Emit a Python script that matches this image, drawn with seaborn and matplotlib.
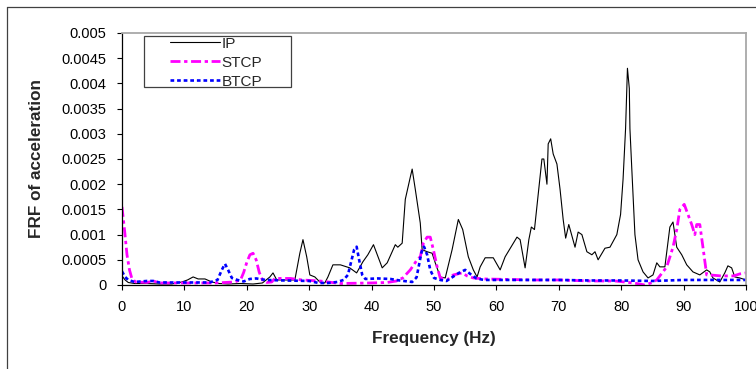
import matplotlib
matplotlib.use("Agg")
import matplotlib.pyplot as plt
import seaborn as sns
import numpy as np
import pandas as pd
from matplotlib.lines import Line2D
from matplotlib.patches import Rectangle

# ---- data ----
ip_freq = [0, 0.5, 1, 2, 4, 6, 8, 9.6, 10.5, 11.4, 12.2, 13.3, 14.4, 15.5, 17, 19, 21, 22.5,
           23.7, 24.2, 24.8, 26, 27.7, 28.5, 29, 29.6, 30.1, 30.9, 31.7, 32.5, 33, 33.8, 35,
           36.5, 37.6, 38.6, 39.4, 40.3, 41.7, 42.5, 43.8, 44.2, 44.9, 45.4, 46.2, 46.5, 47,
           47.8, 48.1, 48.9, 49.7, 50.2, 51, 51.8, 52.9, 53.9, 54.6, 55.5, 56.3, 56.9, 57.4,
           58.2, 59.5, 60.6, 61.4, 63.3, 63.8, 64.6, 65.2, 65.6, 66.1, 66.7, 67.3, 67.6, 68.1,
           68.3, 68.7, 69.1, 69.7, 70.2, 70.7, 71.1, 71.6, 72.6, 73.1, 73.7, 74.5, 75.3, 75.8,
           76.3, 77.4, 78.2, 79.3, 79.9, 80.3, 80.7, 81, 81.3, 81.4, 81.7, 82.2, 82.7, 83.5,
           84.3, 85.1, 85.7, 86.2, 87, 87.8, 88.3, 88.6, 88.9, 89.7, 90.5, 91.5, 92.6, 93.7,
           94.2, 94.7, 95.8, 96.6, 97.1, 97.7, 98.2, 99, 100]
ip_frf = [0.00018, 0.0001, 0.00005, 0.00003, 0.00003, 0.00002, 0.00002, 0.00006, 0.0001,
          0.00016, 0.00012, 0.00012, 0.00006, 0.00003, 0.00002, 0.00003, 0.00002, 0.00004,
          0.00016, 0.00024, 0.0001, 0.0001, 0.0001, 0.00063, 0.0009, 0.00056, 0.0002,
          0.00016, 0.00006, 0.00004, 0.00016, 0.0004, 0.0004, 0.00034, 0.00024, 0.00046,
          0.0006, 0.0008, 0.00034, 0.00044, 0.0008, 0.00075, 0.00083, 0.0017, 0.00214,
          0.0023, 0.0019, 0.00123, 0.0007, 0.00066, 0.00063, 0.00044, 0.00016, 0.00014,
          0.0007, 0.0013, 0.0011, 0.00056, 0.0003, 0.00016, 0.00036, 0.00054, 0.00054,
          0.0003, 0.00056, 0.00095, 0.0009, 0.00034, 0.0009, 0.00115, 0.0011, 0.0018,
          0.0025, 0.0025, 0.002, 0.0028, 0.0029, 0.0026, 0.0024, 0.0019, 0.0013, 0.00093,
          0.0012, 0.00075, 0.00105, 0.001, 0.00066, 0.0006, 0.00066, 0.0005, 0.00073,
          0.00075, 0.001, 0.0014, 0.0021, 0.0031, 0.0043, 0.0039, 0.0031, 0.0023, 0.001,
          0.0005, 0.00026, 0.00014, 0.0002, 0.00044, 0.00036, 0.00036, 0.00115, 0.00125,
          0.001, 0.00075, 0.0006, 0.0004, 0.00026, 0.0002, 0.0003, 0.00026, 0.00014,
          0.00006, 0.00024, 0.00038, 0.00034, 0.00016, 0.00014, 0.0001]

stcp_freq = [0, 0.4, 0.8, 1.2, 1.6, 2.2, 4, 5, 6, 10, 15, 18, 19, 19.5, 20, 20.5, 21, 21.5, 22,
             22.5, 23.2, 24, 24.5, 27, 28.8, 31.7, 33, 35, 39.7, 42.5, 44, 45, 46.2, 47.3,
             47.8, 48.3, 48.9, 49.4, 49.9, 50.5, 51, 52.1, 53.1, 54.5, 55.3, 56.3, 58, 62, 66,
             70, 75, 79, 82, 83.8, 85, 85.7, 87.3, 88.3, 88.9, 89.4, 90.1, 90.7, 91.3, 91.8,
             92.1, 92.6, 93.1, 93.7, 94.2, 96, 98, 99, 100]
stcp_frf = [0.00155, 0.0011, 0.0006, 0.0003, 0.00012, 0.00006, 0.00005, 0.00008, 0.00004,
            0.00004, 0.00004, 0.00006, 0.0001, 0.00025, 0.00045, 0.0006, 0.00063, 0.0005,
            0.00025, 0.0001, 0.00005, 0.00006, 0.00013, 0.00013, 0.0001, 0.00008, 0.00006,
            0.00003, 0.00004, 0.00005, 0.00008, 0.00014, 0.0003, 0.0005, 0.00056, 0.00083,
            0.00095, 0.00095, 0.0007, 0.00036, 0.00014, 0.0001, 0.0002, 0.00024, 0.00018,
            0.00014, 0.00012, 0.00011, 0.0001, 0.0001, 0.00008, 0.00008, 0.00004, 0.0,
            0.00005, 0.0001, 0.00036, 0.00075, 0.0011, 0.0015, 0.0016, 0.0014, 0.0012, 0.001,
            0.0012, 0.0012, 0.00075, 0.0002, 0.0002, 0.00018, 0.00018, 0.00022, 0.00024]

btcp_freq = [0, 0.5, 1, 2, 4, 5, 6, 10, 14, 15.3, 16, 16.5, 17, 17.6, 18.5, 19.5, 20.5, 21.5,
             23, 26, 30, 31.5, 33, 34.5, 35.5, 36.2, 36.7, 37.2, 37.6, 38, 38.5, 39, 41, 43,
             44.5, 46.5, 47.2, 47.6, 48, 48.4, 48.9, 49.4, 50, 51, 52, 53, 54, 55, 55.8, 56.8,
             58, 65, 70, 75, 80, 85, 90, 95, 100]
btcp_frf = [0.00027, 0.00016, 0.0001, 0.00006, 0.00008, 0.00008, 0.00005, 0.00005, 0.00005,
            0.0001, 0.0003, 0.00042, 0.0003, 0.00014, 0.0001, 0.00007, 0.00012, 0.00013,
            0.0001, 0.00009, 0.00008, 0.00004, 0.00004, 0.00006, 0.0001, 0.0002, 0.00045,
            0.0007, 0.00076, 0.0005, 0.0002, 0.00012, 0.00013, 0.00012, 0.00009, 0.00006,
            0.00015, 0.0004, 0.00065, 0.00076, 0.0006, 0.0003, 0.00014, 0.0001, 0.00008,
            0.00016, 0.00024, 0.0003, 0.00022, 0.00013, 0.0001, 0.0001, 0.0001, 0.00009,
            0.00009, 0.00008, 0.0001, 0.0001, 0.0001]

series_names = ["IP", "STCP", "BTCP"]
x_ticks = list(range(0, 101, 10))
y_ticks = [0, 0.0005, 0.001, 0.0015, 0.002, 0.0025, 0.003, 0.0035, 0.004, 0.0045, 0.005]

# ---- styling ----
sns.set_style("ticks")
plt.rcParams["font.family"] = ["Liberation Sans", "DejaVu Sans"]

W, H = 756, 369
fig = plt.figure(figsize=(W / 100, H / 100), dpi=100)
ax = fig.add_axes([122 / W, 1 - 285 / H, 624 / W, 252 / H])

sns.lineplot(x=ip_freq, y=ip_frf, ax=ax, color="#000000", linewidth=0.8,
             label=series_names[0], legend=False)
sns.lineplot(x=stcp_freq, y=stcp_frf, ax=ax, color="#ff00ff", linewidth=2.0,
             linestyle=(0, (3.6, 1.3, 1.2, 1.3)), label=series_names[1], legend=False)
sns.lineplot(x=btcp_freq, y=btcp_frf, ax=ax, color="#0000ff", linewidth=1.9,
             linestyle=(0, (1.4, 1.1)), label=series_names[2], legend=False)

ax.set_xlim(0, 100)
ax.set_ylim(0, 0.005)
ax.set_xticks(x_ticks)
ax.set_yticks(y_ticks)
ax.set_yticklabels(["%g" % v for v in y_ticks])
ax.set_xticklabels([str(v) for v in x_ticks])
ax.tick_params(axis="both", direction="out", length=3.6, width=0.8, color="black",
               labelsize=10.5, labelcolor="black", pad=7.5)

for s in ["left", "bottom"]:
    ax.spines[s].set_color("black")
    ax.spines[s].set_linewidth(0.9)
for s in ["top", "right"]:
    ax.spines[s].set_visible(True)
    ax.spines[s].set_color("#a8a8a8")
    ax.spines[s].set_linewidth(1.3)

ax.set_xlabel("Frequency (Hz)", fontsize=12.3, fontweight="bold")
ax.set_ylabel("FRF of acceleration", fontsize=12.3, fontweight="bold")
ax.xaxis.set_label_coords(0.5, -(331 - 285) / 252, transform=ax.transAxes)
ax.yaxis.set_label_coords(-(122 - 44) / 624, 0.5, transform=ax.transAxes)

# outer chart-area frame
fig.add_artist(Line2D([7 / W, 1], [1 - 7 / H, 1 - 7 / H], transform=fig.transFigure,
                      color="#404040", linewidth=0.9))
fig.add_artist(Line2D([7 / W, 7 / W], [0, 1 - 7 / H], transform=fig.transFigure,
                      color="#404040", linewidth=0.9))

# legend box
fig.add_artist(Rectangle((144 / W, 1 - 87 / H), 147 / W, 51 / H, transform=fig.transFigure,
                         facecolor="white", edgecolor="#404040", linewidth=0.9, zorder=1))
handles = ax.get_lines()[:3]
fig.legend(handles=handles, labels=series_names, loc="upper left",
           bbox_to_anchor=(170 / W, 1 - 36.5 / H), frameon=False, fontsize=11,
           borderpad=0, labelspacing=0.33, handlelength=50 / 15.3, handletextpad=0.12,
           borderaxespad=0)

fig.savefig("out.png", dpi=100)
